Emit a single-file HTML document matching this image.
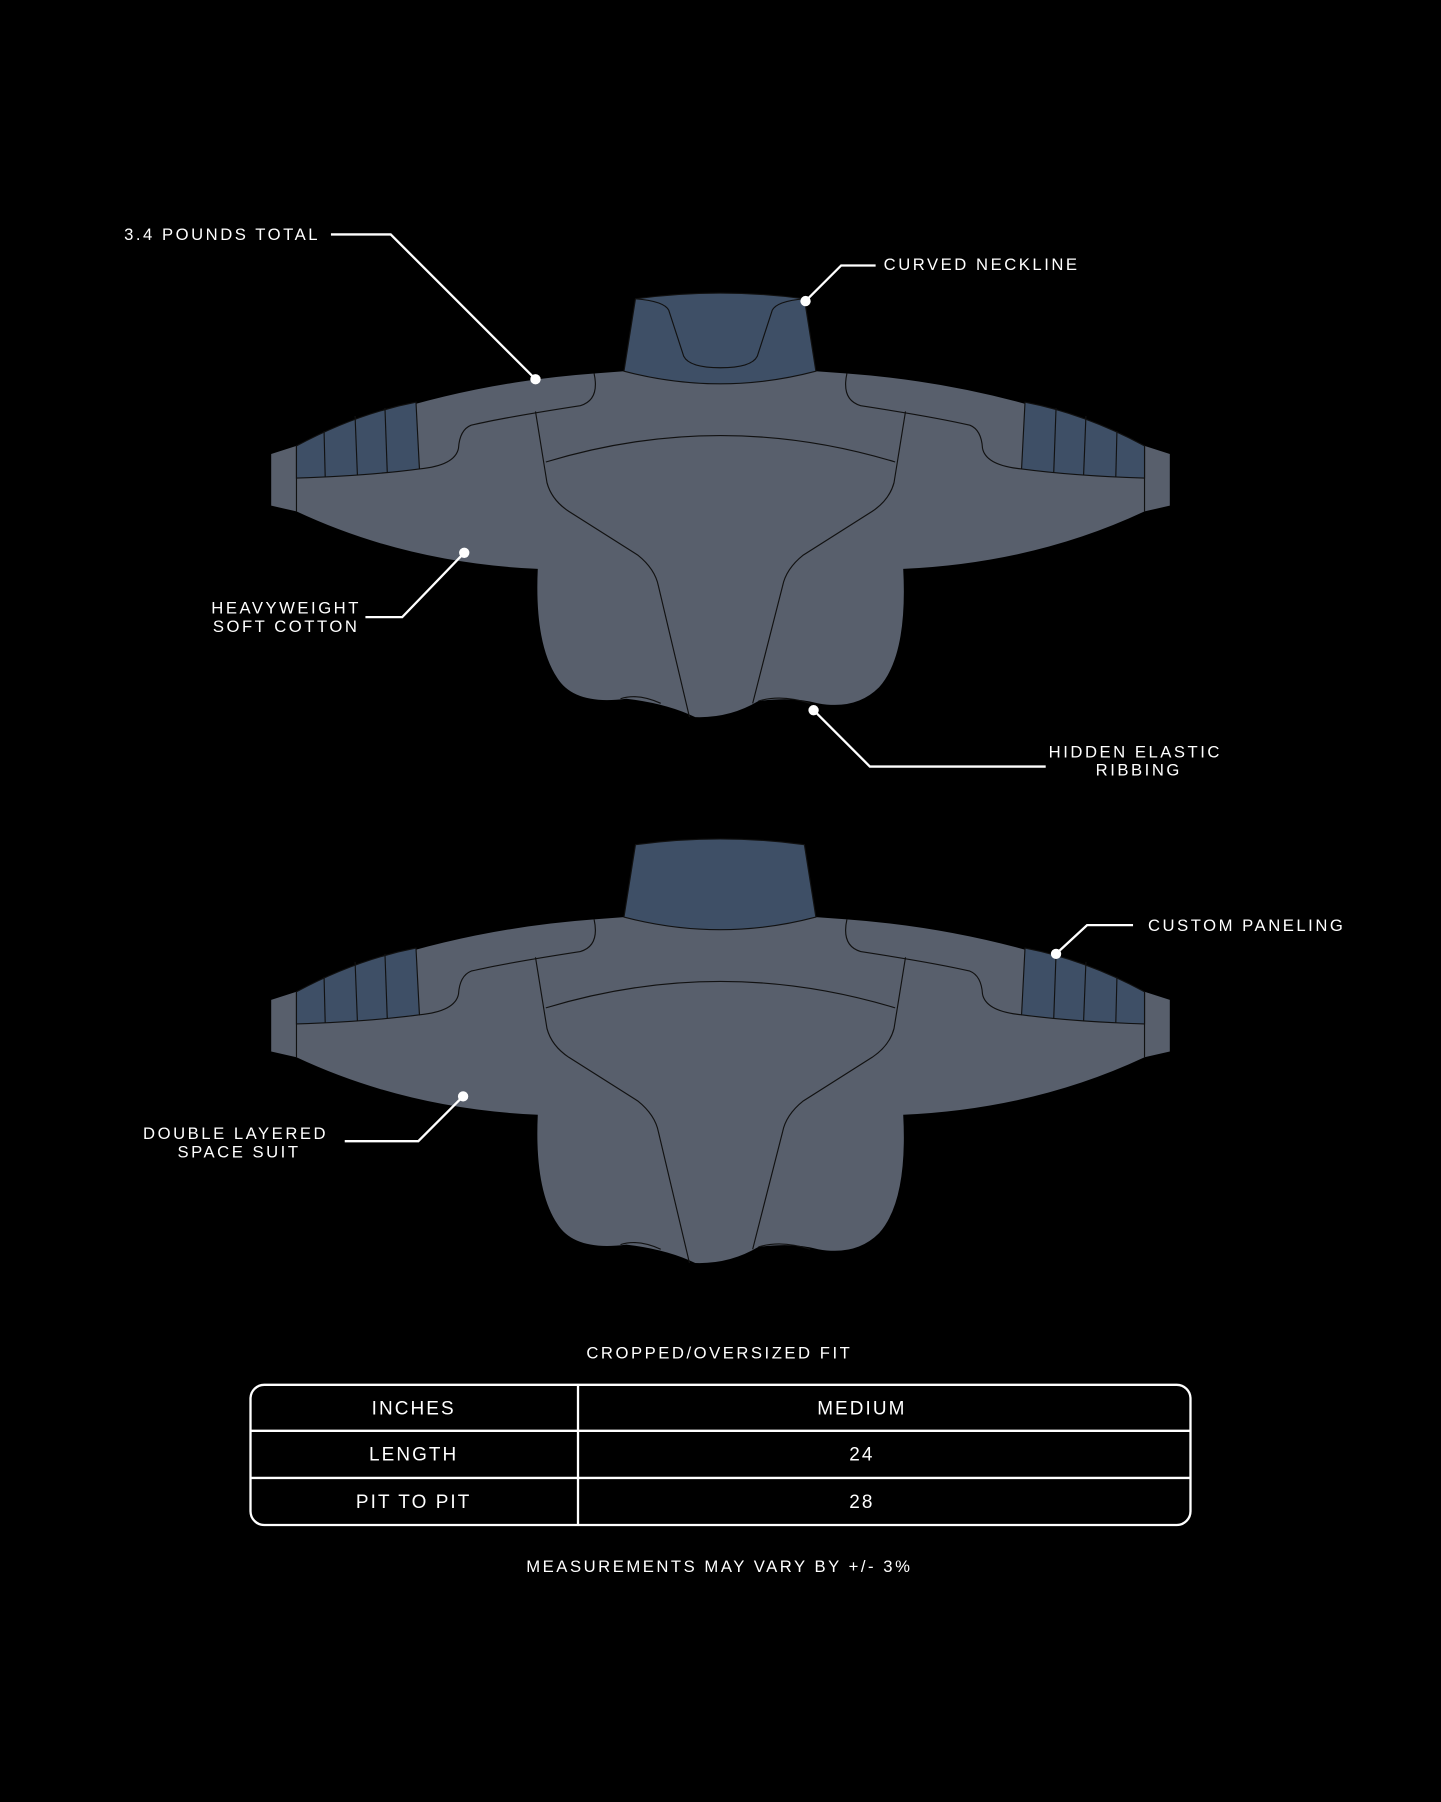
<!DOCTYPE html>
<html><head><meta charset="utf-8"><style>
html,body{margin:0;padding:0;background:#000;}
svg{display:block}
text{font-family:"Liberation Sans",sans-serif;fill:#fff;font-size:14.5px;letter-spacing:2.2px}
</style></head><body>
<svg width="1441" height="1802" viewBox="0 0 1254 1568" preserveAspectRatio="none" xmlns="http://www.w3.org/2000/svg">
<rect width="1254" height="1568" fill="#000"/>
<defs>
<g id="jk">
  <path d="M258,388 Q380,335 517,325 L543,323 Q627,345 710,323 L737,325 Q874,335 996,388 L996,445 Q900,490 786,495 Q790,570 765,598 Q745,618 712,612 Q690,606 660,610 Q635,625 605,624 Q580,612 545,608 Q500,614 485,590 Q465,560 468,495 Q354,490 258,445 Z" fill="#585f6c"/>
  <path d="M236,395 L258,388 L258,445 L236,440 Z" fill="#585f6c"/>
  <path d="M1018,395 L996,388 L996,445 L1018,440 Z" fill="#585f6c"/>
  <line x1="258" y1="388" x2="258" y2="445" stroke="#111" stroke-width="1"/>
  <line x1="996" y1="388" x2="996" y2="445" stroke="#111" stroke-width="1"/>
  <path d="M258,388 Q310,360 362,350 L365,408 Q320,414 258,416 Z" fill="#3e4f66" stroke="#111" stroke-width="1"/>
  <path d="M996,388 Q944,360 892,350 L889,408 Q934,414 996,416 Z" fill="#3e4f66" stroke="#111" stroke-width="1"/>
  <g stroke="#111" stroke-width="1" fill="none">
    <line x1="282" y1="375" x2="283" y2="415"/><line x1="309" y1="362" x2="311" y2="413"/><line x1="335" y1="355" x2="337" y2="411"/>
    <line x1="972" y1="375" x2="971" y2="415"/><line x1="945" y1="362" x2="943" y2="413"/><line x1="919" y1="355" x2="917" y2="411"/>
    <path d="M517,325 Q522,348 505,353 Q440,363 410,370 Q400,374 399,390 Q396,405 365,408"/>
    <path d="M737,325 Q732,348 749,353 Q814,363 844,370 Q854,374 855,390 Q858,405 889,408"/>
    <path d="M466,358 L476,420 Q480,435 495,445 L555,483 Q570,495 573,510 L600,624"/>
    <path d="M788,358 L778,420 Q774,435 759,445 L699,483 Q684,495 681,510 L655,612"/>
    <path d="M475,402 Q627,356 779,402"/>
    <path d="M540,608 Q555,603 575,612"/><path d="M660,610 Q680,604 705,612"/>
  </g>
  <path d="M553,260 Q627,250 700,260 L710,323 Q627,345 543,323 Z" fill="#3e4f66" stroke="#111" stroke-width="1"/>
</g>
</defs>
<use href="#jk"/>
<g stroke="#111" stroke-width="1" fill="none">
  <path d="M553,260 Q578,262 582,270 L595,310 Q600,320 627,320 Q654,320 659,310 L672,270 Q676,262 700,260"/>
</g>
<use href="#jk" transform="translate(0,475)"/>

<g stroke="#fff" stroke-width="2" fill="none">
  <polyline points="288,204 340,204 466,330"/>
  <polyline points="701,262 732,231 762,231"/>
  <polyline points="404,481 350,537 318,537"/>
  <polyline points="708,618 757,667 910,667"/>
  <polyline points="919,830 946,805 986,805"/>
  <polyline points="403,954 364,993 300,993"/>
</g>
<g fill="#fff">
  <circle cx="466" cy="330" r="4.5"/><circle cx="701" cy="262" r="4.5"/><circle cx="404" cy="481" r="4.5"/>
  <circle cx="708" cy="618" r="4.5"/><circle cx="919" cy="830" r="4.5"/><circle cx="403" cy="954" r="4.5"/>
</g>
<text x="108" y="209">3.4 POUNDS TOTAL</text>
<text x="769" y="235">CURVED NECKLINE</text>
<text x="249" y="534" text-anchor="middle">HEAVYWEIGHT</text>
<text x="249" y="550" text-anchor="middle">SOFT COTTON</text>
<text x="988" y="659" text-anchor="middle">HIDDEN ELASTIC</text>
<text x="991" y="675" text-anchor="middle">RIBBING</text>
<text x="999" y="810">CUSTOM PANELING</text>
<text x="205" y="991" text-anchor="middle">DOUBLE LAYERED</text>
<text x="208" y="1007" text-anchor="middle">SPACE SUIT</text>

<text x="626" y="1182" text-anchor="middle">CROPPED/OVERSIZED FIT</text>
<rect x="218" y="1205" width="818" height="122" rx="12" fill="none" stroke="#fff" stroke-width="2"/>
<g stroke="#fff" stroke-width="2">
  <line x1="503" y1="1205" x2="503" y2="1327"/>
  <line x1="218" y1="1245" x2="1036" y2="1245"/>
  <line x1="218" y1="1286" x2="1036" y2="1286"/>
</g>
<text x="360" y="1231" text-anchor="middle" style="font-size:16.5px;letter-spacing:1.8px">INCHES</text>
<text x="750" y="1231" text-anchor="middle" style="font-size:16.5px;letter-spacing:1.8px">MEDIUM</text>
<text x="360" y="1271" text-anchor="middle" style="font-size:16.5px;letter-spacing:1.8px">LENGTH</text>
<text x="750" y="1271" text-anchor="middle" style="font-size:16.5px;letter-spacing:1.8px">24</text>
<text x="360" y="1312" text-anchor="middle" style="font-size:16.5px;letter-spacing:1.8px">PIT TO PIT</text>
<text x="750" y="1312" text-anchor="middle" style="font-size:16.5px;letter-spacing:1.8px">28</text>
<text x="626" y="1368" text-anchor="middle">MEASUREMENTS MAY VARY BY +/- 3%</text>
</svg>
</body></html>
